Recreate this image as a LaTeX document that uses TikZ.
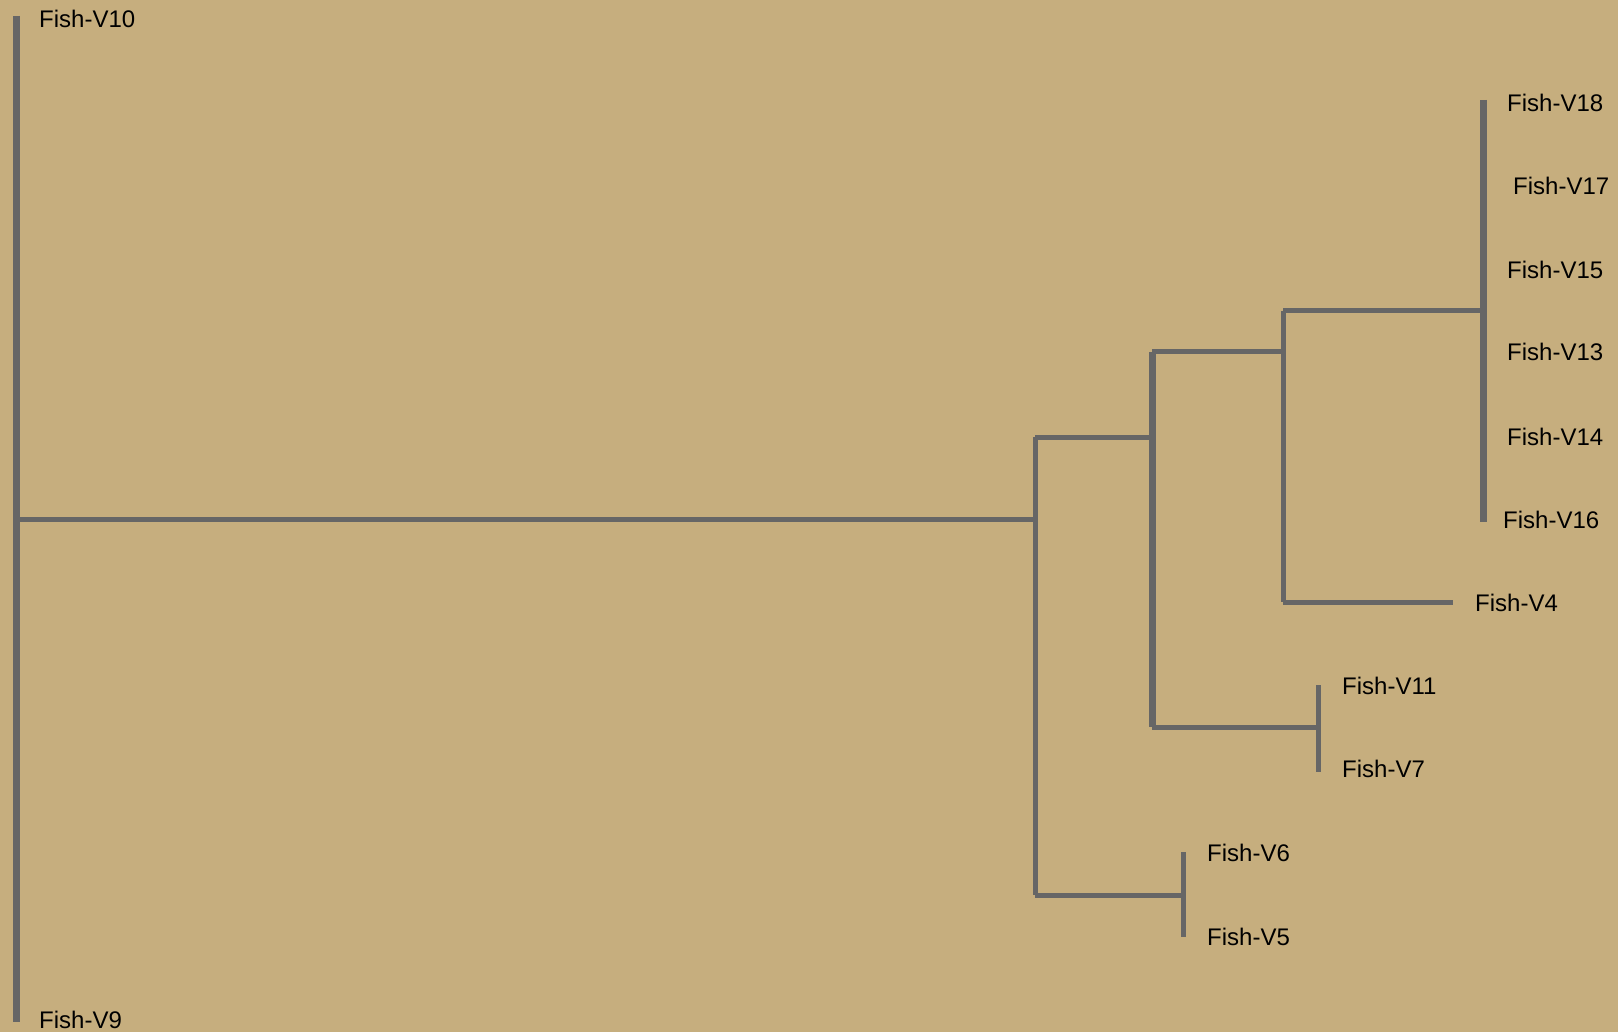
\documentclass[tikz,border=0pt]{standalone}
\usepackage{fontspec}
\setmainfont{Liberation Sans}
\usetikzlibrary{positioning}

\definecolor{treebg}{RGB}{198,174,126}
\definecolor{branchgray}{RGB}{102,102,102}

\begin{document}
\begin{tikzpicture}[
    x=1pt, y=-1pt,
    leaf/.style={anchor=west, inner sep=0pt, font=\fontsize{24}{24}\selectfont, text=black},
    branch/.style={draw=branchgray, line width=5pt},
    stem/.style={draw=branchgray, line width=7pt}
]
    \fill[treebg] (0,0) rectangle (1618,1032);
    \useasboundingbox (0,0) rectangle (1618,1032);

    % internal nodes (top and bottom of each vertical)
    \coordinate (root_top) at (16,16);
    \coordinate (root_bot) at (16,1022);
    \coordinate (root) at (16,519);
    \coordinate (a_mid) at (1035,519);
    \coordinate (a_top) at (1035,437);
    \coordinate (a_bot) at (1035,895);
    \coordinate (b_top) at (1152,437);
    \coordinate (b_mid) at (1152,352);
    \coordinate (b_bot) at (1152,727);
    \coordinate (b_up) at (1152,352);
    \coordinate (c_mid) at (1283,352);
    \coordinate (c_top) at (1283,311);
    \coordinate (c_bot) at (1283,602);
    \coordinate (k_mid) at (1483,311);
    \coordinate (k_top) at (1483,100);
    \coordinate (k_bot) at (1483,522);
    \coordinate (v4_tip) at (1453,602);
    \coordinate (d_mid) at (1318,727);
    \coordinate (d_top) at (1318,685);
    \coordinate (d_bot) at (1318,772);
    \coordinate (e_mid) at (1183,895);
    \coordinate (e_top) at (1183,852);
    \coordinate (e_bot) at (1183,937);

    % leaves
    \node[leaf] (v10) at (39,19) {Fish-V10};
    \node[leaf] (v9) at (39,1020) {Fish-V9};
    \node[leaf] (v18) at (1507,103) {Fish-V18};
    \node[leaf] (v17) at (1513,186) {Fish-V17};
    \node[leaf] (v15) at (1507,270) {Fish-V15};
    \node[leaf] (v13) at (1507,352) {Fish-V13};
    \node[leaf] (v14) at (1507,437) {Fish-V14};
    \node[leaf] (v16) at (1503,520) {Fish-V16};
    \node[leaf] (v4) at (1475,603) {Fish-V4};
    \node[leaf] (v11) at (1342,686) {Fish-V11};
    \node[leaf] (v7) at (1342,769) {Fish-V7};
    \node[leaf] (v6) at (1207,853) {Fish-V6};
    \node[leaf] (v5) at (1207,937) {Fish-V5};

    % tree
    \draw[stem] (root_top) -- (root_bot);
    \draw[branch] (root) -- (a_mid);
    \draw[branch] (a_top) -- (a_bot);
    \draw[branch] (a_top) -- (b_top);
    \draw[stem] (b_up) -- (b_bot);
    \draw[branch] (b_mid) -- (c_mid);
    \draw[branch] (c_top) -- (c_bot);
    \draw[branch] (c_top) -- (k_mid);
    \draw[stem] (k_top) -- (k_bot);
    \draw[branch] (c_bot) -- (v4_tip);
    \draw[branch] (b_bot) -- (d_mid);
    \draw[branch] (d_top) -- (d_bot);
    \draw[branch] (a_bot) -- (e_mid);
    \draw[branch] (e_top) -- (e_bot);
\end{tikzpicture}
\end{document}
